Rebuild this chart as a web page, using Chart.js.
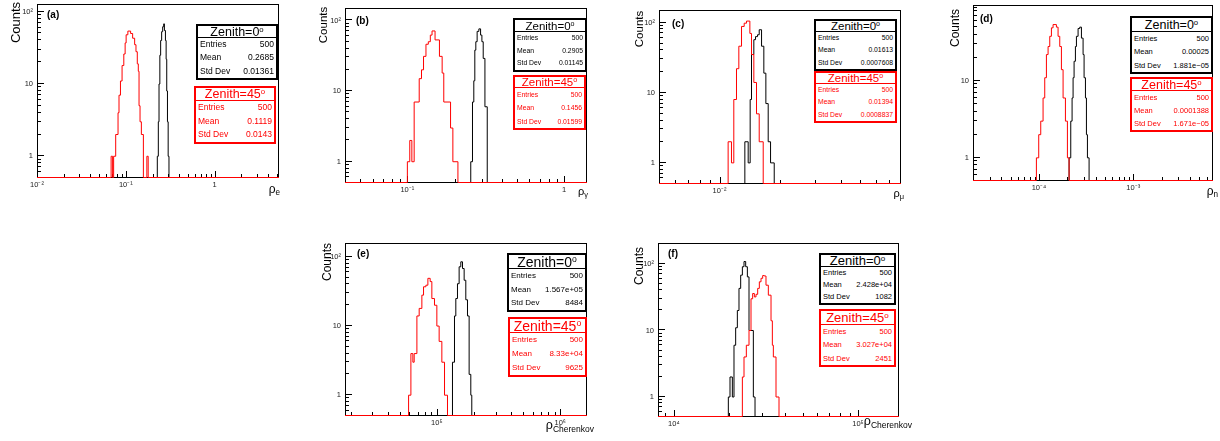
<!DOCTYPE html>
<html>
<head>
<meta charset="utf-8">
<script src="https://cdn.jsdelivr.net/npm/chart.js@4.4.0/dist/chart.umd.min.js"></script>
<style>
  html, body { margin: 0; padding: 0; background: #fff; }
  body { width: 1220px; height: 441px; position: relative; overflow: hidden;
         font-family: "Liberation Sans", Arial, Helvetica, sans-serif; color: #000; }
  canvas { position: absolute; }
  .ov { position: absolute; white-space: nowrap; line-height: 1; }
  .tag { font-weight: bold; font-size: 10px; }
  .ytitle { transform: rotate(-90deg); text-align: center; }
  .sub { font-size: 0.68em; position: relative; top: 0.32em; }
  .sup { font-size: 0.62em; position: relative; top: -0.55em; }
  .stat { position: absolute; background: #fff; border: 2px solid #000; box-sizing: border-box; white-space: nowrap; }
  .stat .ttl { position: absolute; left: 0; right: 0; top: 0; border-bottom: 1px solid; box-sizing: border-box; text-align: center; }
  .stat .row { position: absolute; left: 2px; right: 2px; display: flex; justify-content: space-between; }
</style>
</head>
<body>
<script>
// ---- histogram data: bin edges and counts ----
// (a) rho_e
const edgesA0 = [0.2261, 0.2321, 0.2364, 0.2415, 0.2466, 0.2531, 0.2599, 0.2669, 0.2718, 0.2791, 0.2843, 0.2888, 0.2942, 0.2996, 0.3060];
const countsA0 = [1, 3, 10, 25, 40, 53, 62, 68, 55, 40, 22, 8, 3, 1];
const edgesA45 = [0.0683, 0.0710, 0.0729, 0.0769, 0.0817, 0.0838, 0.0870, 0.0907, 0.0949, 0.0982, 0.1008, 0.1054, 0.1132, 0.1193, 0.1257, 0.1301, 0.1346, 0.1382, 0.1408, 0.1445, 0.1496, 0.1576, 0.1725, 0.1785];
const countsA45 = [1, 0, 1, 2, 4, 7, 11, 18, 26, 37, 48, 54, 50, 43, 35, 28, 19, 15, 5, 3, 2, 0, 1];
// (b) rho_gamma
const edgesB0 = [0.2538, 0.2603, 0.2654, 0.2694, 0.2734, 0.2787, 0.2859, 0.2932, 0.2989, 0.3047, 0.3125, 0.3233];
const countsB0 = [1, 7, 14, 38, 50, 70, 76, 62, 50, 29, 6];
const edgesB45 = [0.1000, 0.1036, 0.1068, 0.1105, 0.1190, 0.1231, 0.1268, 0.1314, 0.1360, 0.1401, 0.1437, 0.1502, 0.1602, 0.1667, 0.1707, 0.1886, 0.1951, 0.2102];
const countsB45 = [1, 2, 1, 7, 15, 20, 31, 46, 50, 62, 71, 53, 31, 18, 7, 3, 1];
// (c) rho_mu
const edgesC0 = [0.01337, 0.01389, 0.01421, 0.01443, 0.01482, 0.01511, 0.01546, 0.01576, 0.01619, 0.01662, 0.01701, 0.01747, 0.01795, 0.01872];
const countsC0 = [2, 1, 8, 35, 57, 63, 67, 79, 46, 19, 7, 2, 1];
const edgesC45 = [0.01104, 0.01147, 0.01178, 0.01215, 0.01248, 0.01287, 0.01327, 0.01363, 0.01416, 0.01443, 0.01482, 0.01528, 0.01576, 0.01650];
const countsC45 = [2, 1, 8, 22, 46, 88, 98, 105, 70, 35, 14, 5, 2];
// (d) rho_n
const edgesD0 = [2.087e-4, 2.174e-4, 2.246e-4, 2.301e-4, 2.358e-4, 2.436e-4, 2.497e-4, 2.600e-4, 2.708e-4, 2.821e-4, 2.938e-4, 3.010e-4, 3.111e-4, 3.187e-4, 3.266e-4, 3.401e-4];
const countsD0 = [1, 3, 6, 11, 18, 28, 38, 48, 50, 36, 22, 11, 6, 2, 1];
const edgesD45 = [9.40e-5, 9.95e-5, 1.045e-4, 1.106e-4, 1.152e-4, 1.200e-4, 1.250e-4, 1.302e-4, 1.356e-4, 1.412e-4, 1.532e-4, 1.595e-4, 1.662e-4, 1.731e-4, 1.803e-4, 1.909e-4, 2.004e-4, 2.087e-4];
const countsD45 = [1, 2, 3, 6, 11, 22, 28, 38, 49, 54, 50, 38, 28, 14, 6, 3, 1];
// (e) rho_Cherenkov
const edgesE0 = [1.339e5, 1.390e5, 1.425e5, 1.470e5, 1.516e5, 1.564e5, 1.614e5, 1.665e5, 1.717e5, 1.772e5, 1.827e5, 1.885e5, 1.920e5];
const countsE0 = [3, 14, 25, 41, 72, 85, 68, 46, 24, 14, 2, 1];
const edgesE45 = [5.90e4, 6.16e4, 6.39e4, 6.55e4, 6.89e4, 7.19e4, 7.56e4, 7.80e4, 8.15e4, 8.46e4, 8.83e4, 9.11e4, 9.57e4, 1.00e5, 1.044e5, 1.098e5, 1.154e5, 1.220e5];
const countsE45 = [1, 4, 3, 4, 14, 18, 28, 37, 39, 49, 44, 25, 20, 10, 6, 3, 1];
// (f) rho_Cherenkov
const edgesF0 = [1.976e4, 2.018e4, 2.078e4, 2.121e4, 2.166e4, 2.212e4, 2.258e4, 2.306e4, 2.355e4, 2.404e4, 2.455e4, 2.507e4, 2.559e4, 2.702e4, 2.759e4];
const countsF0 = [1, 2, 1, 6, 11, 20, 43, 68, 91, 109, 91, 64, 10, 1];
const edgesF45 = [2.355e4, 2.404e4, 2.475e4, 2.559e4, 2.624e4, 2.679e4, 2.736e4, 2.793e4, 2.852e4, 2.912e4, 2.974e4, 3.036e4, 3.100e4, 3.165e4, 3.259e4, 3.370e4, 3.427e4, 3.470e4, 3.587e4, 3.724e4];
const countsF45 = [2, 4, 6, 10, 30, 36, 32, 35, 43, 54, 61, 67, 66, 48, 34, 14, 6, 4, 1];

// ---- tick labels ----
const xTicksA = [0.01, 0.1, 1];     const xLabelsA = ['10\u207B\u00B2', '10\u207B\u00B9', '1'];
const xTicksB = [0.1, 1];           const xLabelsB = ['10\u207B\u00B9', '1'];
const xTicksC = [0.01];             const xLabelsC = ['10\u207B\u00B2'];
const xTicksD = [1e-4, 1e-3];       const xLabelsD = ['10\u207B\u2074', '10\u207B\u00B3'];
const xTicksE = [1e5, 1e6];         const xLabelsE = ['10\u2075', '10\u2076'];
const xTicksF = [1e4, 1e5];         const xLabelsF = ['10\u2074', '10\u2075'];
const yTicks = [1, 10, 100];        const yLabels = ['1', '10', '10\u00B2'];

// ---- stats boxes text ----
const statNames = ['Entries', 'Mean', 'Std Dev'];
const statsA = [['500', '0.2685', '0.01361'], ['500', '0.1119', '0.0143']];
const statsB = [['500', '0.2905', '0.01145'], ['500', '0.1456', '0.01599']];
const statsC = [['500', '0.01613', '0.0007608'], ['500', '0.01394', '0.0008837']];
const statsD = [['500', '0.00025', '1.881e\u221205'], ['500', '0.0001388', '1.671e\u221205']];
const statsE = [['500', '1.567e+05', '8484'], ['500', '8.33e+04', '9625']];
const statsF = [['500', '2.428e+04', '1082'], ['500', '3.027e+04', '2451']];

const Y_MIN = 0.5;
const FONT = '"Liberation Sans", Arial, Helvetica, sans-serif';

// layout of the six pads
const panels = [
  { tag: '(a)', frame: [37, 4, 242, 174], xMin: 0.01, xMax: 5.3, yMax: 128,
    xt: xTicksA, xl: xLabelsA, black: [edgesA0, countsA0], red: [edgesA45, countsA45], stats: statsA,
    tagPos: [47, 10], ct: { cx: 15.3, cy: 22.5, fs: 13 }, xTitle: { edge: 280, base: 193, fs: 12, sub: 'e' },
    boxes: [{ x: 196, y: 24, w: 82, h: 56, th: 14, tf: 12.5, rf: 8.5 }, { x: 194, y: 86, w: 82, h: 58, th: 15, tf: 12.5, rf: 8.5 }] },
  { tag: '(b)', frame: [345, 8, 242, 175], xMin: 0.04, xMax: 1.4, yMax: 150,
    xt: xTicksB, xl: xLabelsB, black: [edgesB0, countsB0], red: [edgesB45, countsB45], stats: statsB,
    tagPos: [356, 15.5], ct: { cx: 323, cy: 24.5, fs: 11.5 }, xTitle: { edge: 588, base: 195, fs: 11, sub: '\u03B3' },
    boxes: [{ x: 513, y: 18, w: 74, h: 54, th: 14, tf: 11.5, rf: 6.8 }, { x: 513, y: 75, w: 73, h: 55, th: 13, tf: 11.5, rf: 6.8 }] },
  { tag: '(c)', frame: [659, 10, 242, 174], xMin: 0.005, xMax: 0.08, yMax: 151,
    xt: xTicksC, xl: xLabelsC, black: [edgesC0, countsC0], red: [edgesC45, countsC45], stats: statsC,
    tagPos: [672, 19], ct: { cx: 638.5, cy: 29, fs: 11.5 }, xTitle: { edge: 904, base: 197, fs: 11, sub: '\u03BC' },
    boxes: [{ x: 814, y: 19, w: 83, h: 52, th: 13, tf: 11.5, rf: 6.8 }, { x: 814, y: 71, w: 83, h: 52, th: 13, tf: 11.5, rf: 6.8 }] },
  { tag: '(d)', frame: [973, 5, 240, 176], xMin: 2e-5, xMax: 7e-3, yMax: 97,
    xt: xTicksD, xl: xLabelsD, black: [edgesD0, countsD0], red: [edgesD45, countsD45], stats: statsD,
    tagPos: [980, 14], ct: { cx: 955.3, cy: 28.3, fs: 12 }, xTitle: { edge: 1218, base: 195, fs: 12, sub: 'n' },
    boxes: [{ x: 1130, y: 16, w: 83, h: 58, th: 16, tf: 12.5, rf: 7.5 }, { x: 1130, y: 77, w: 83, h: 55, th: 14, tf: 12.5, rf: 7.5 }] },
  { tag: '(e)', frame: [345, 243, 242, 173], xMin: 1.8e4, xMax: 1.65e6, yMax: 159,
    xt: xTicksE, xl: xLabelsE, black: [edgesE0, countsE0], red: [edgesE45, countsE45], stats: statsE,
    tagPos: [357, 249], ct: { cx: 326.7, cy: 261.7, fs: 12 }, xTitle: { edge: 594, base: 430, fs: 12.5, sub: 'Cherenkov' },
    boxes: [{ x: 507, y: 253, w: 80, h: 59, th: 16, tf: 14, rf: 8 }, { x: 508, y: 317, w: 79, h: 60, th: 16, tf: 14, rf: 8 }] },
  { tag: '(f)', frame: [658, 243, 241, 174], xMin: 8.2e3, xMax: 1.67e5, yMax: 207,
    xt: xTicksF, xl: xLabelsF, black: [edgesF0, countsF0], red: [edgesF45, countsF45], stats: statsF,
    tagPos: [668, 249], ct: { cx: 638.7, cy: 265.8, fs: 12 }, xTitle: { edge: 912, base: 426, fs: 12.5, sub: 'Cherenkov' },
    boxes: [{ x: 819, y: 253, w: 77, h: 52, th: 14, tf: 13, rf: 7.5 }, { x: 819, y: 309, w: 77, h: 58, th: 16, tf: 13, rf: 7.5 }] }
];

function logTicks(min, max) {
  const out = [];
  for (let e = Math.floor(Math.log10(min)); e <= Math.ceil(Math.log10(max)); e++) {
    for (let k = 1; k <= 9; k++) {
      const v = k * Math.pow(10, e);
      if (v >= min * 0.9999 && v <= max * 1.0001) out.push(v);
    }
  }
  return out;
}
function isDecade(v) {
  const e = Math.log10(v);
  return Math.abs(e - Math.round(e)) < 1e-6;
}
function labelOf(v, vals, labs) {
  const i = vals.findIndex(m => Math.abs(m - v) <= m * 1e-6);
  return i < 0 ? '' : labs[i];
}

// stepped outline like ROOT's histogram drawing; empty bins sit on the frame bottom
function histPoints(edges, counts, xmin, xmax, floor) {
  const pts = [{ x: xmin, y: floor }];
  counts.forEach((c, i) => pts.push({ x: edges[i], y: c > 0 ? c : floor }));
  pts.push({ x: edges[edges.length - 1], y: floor });
  pts.push({ x: xmax, y: floor });
  return pts;
}

// frame + inward tick marks
const rootFrame = {
  id: 'rootFrame',
  beforeDatasetsDraw(chart) {
    const { ctx, chartArea: a } = chart;
    const xs = chart.scales.x, ys = chart.scales.y;
    ctx.save();
    ctx.strokeStyle = '#000';
    ctx.lineWidth = 1;
    ctx.beginPath();
    logTicks(xs.min, xs.max).forEach(v => {
      const px = Math.round(xs.getPixelForValue(v)) + 0.5;
      if (px <= a.left + 1 || px >= a.right - 1) return;
      const len = isDecade(v) ? 7 : 4;
      ctx.moveTo(px, a.bottom);
      ctx.lineTo(px, a.bottom - len);
    });
    logTicks(ys.min, ys.max).forEach(v => {
      const py = Math.round(ys.getPixelForValue(v)) - 0.5;
      if (py <= a.top + 1 || py >= a.bottom - 1) return;
      const len = isDecade(v) ? 7 : 4;
      ctx.moveTo(a.left, py);
      ctx.lineTo(a.left + len, py);
    });
    ctx.stroke();
    ctx.strokeRect(a.left + 0.5, a.top + 0.5, a.right - a.left - 1, a.bottom - a.top - 1);
    ctx.restore();
  }
};

function zeroPad(s) {
  s.paddingLeft = s.paddingRight = s.paddingTop = s.paddingBottom = 0;
}

function addDiv(cls, html, style) {
  const d = document.createElement('div');
  d.className = cls;
  d.innerHTML = html;
  Object.assign(d.style, style);
  document.body.appendChild(d);
  return d;
}

function addStats(b, title, vals, color) {
  const inner = b.h - 4, tH = b.th - 2, rowH = (inner - tH) / 3;
  let html = `<div class="ttl" style="height:${tH}px;line-height:${tH}px;font-size:${b.tf}px;border-color:${color}">${title}</div>`;
  statNames.forEach((n, i) => {
    html += `<div class="row" style="top:${tH + i * rowH}px;height:${rowH}px;line-height:${rowH}px;font-size:${b.rf}px">` +
            `<span>${n}</span><span>${vals[i]}</span></div>`;
  });
  addDiv('stat', html, { left: b.x + 'px', top: b.y + 'px', width: b.w + 'px', height: b.h + 'px', borderColor: color, color: color });
}

panels.forEach(p => {
  const [L, T, W, H] = p.frame;
  const cv = document.createElement('canvas');
  cv.width = W + 34;
  cv.height = H + 24;
  cv.style.left = (L - 30) + 'px';
  cv.style.top = (T - 4) + 'px';
  document.body.appendChild(cv);

  const xAll = logTicks(p.xMin, p.xMax);
  const yAll = logTicks(Y_MIN, p.yMax);
  // empty bins drawn half a pixel above the axis minimum so the line sits on the frame's bottom edge
  const floor = Y_MIN * Math.pow(p.yMax / Y_MIN, 0.5 / H);

  new Chart(cv, {
    type: 'line',
    data: {
      datasets: [
        { data: histPoints(p.red[0], p.red[1], p.xMin, p.xMax, floor), borderColor: '#ff0000', borderWidth: 1,
          stepped: true, pointRadius: 0, fill: false, tension: 0 },
        { data: histPoints(p.black[0], p.black[1], p.xMin, p.xMax, floor), borderColor: '#000000', borderWidth: 1,
          stepped: true, pointRadius: 0, fill: false, tension: 0 }
      ]
    },
    options: {
      responsive: false,
      animation: false,
      devicePixelRatio: 1,
      events: [],
      layout: { padding: { left: 0, top: 4, right: 4, bottom: 0 } },
      plugins: { legend: { display: false }, tooltip: { enabled: false } },
      scales: {
        x: {
          type: 'logarithmic', min: p.xMin, max: p.xMax,
          grid: { display: false, drawTicks: false }, border: { display: false },
          afterBuildTicks: s => { s.ticks = xAll.map(v => ({ value: v })); },
          afterFit: s => { s.height = 20; zeroPad(s); },
          ticks: { autoSkip: false, maxRotation: 0, minRotation: 0, padding: 2, color: '#222',
                   font: { size: 7.5, family: FONT }, callback: v => labelOf(v, p.xt, p.xl) }
        },
        y: {
          type: 'logarithmic', min: Y_MIN, max: p.yMax,
          grid: { display: false, drawTicks: false }, border: { display: false },
          afterBuildTicks: s => { s.ticks = yAll.map(v => ({ value: v })); },
          afterFit: s => { s.width = 30; zeroPad(s); },
          ticks: { autoSkip: false, padding: 4, color: '#222',
                   font: { size: 7.5, family: FONT }, callback: v => labelOf(v, yTicks, yLabels) }
        }
      }
    },
    plugins: [rootFrame]
  });
});

// text overlays
panels.forEach(p => {
  addDiv('ov tag', p.tag, { left: p.tagPos[0] + 'px', top: p.tagPos[1] + 'px' });

  const w = 60, h = Math.round(p.ct.fs + 2);
  addDiv('ov ytitle', 'Counts', { left: (p.ct.cx - w / 2) + 'px', top: (p.ct.cy - h / 2) + 'px',
    width: w + 'px', height: h + 'px', lineHeight: h + 'px', fontSize: p.ct.fs + 'px' });

  const xt = p.xTitle;
  addDiv('ov', '\u03C1<span class="sub">' + xt.sub + '</span>', { right: (1220 - xt.edge) + 'px',
    top: (xt.base - 0.85 * xt.fs) + 'px', fontSize: xt.fs + 'px' });

  addStats(p.boxes[0], 'Zenith=0<span class="sup">o</span>', p.stats[0], '#000000');
  addStats(p.boxes[1], 'Zenith=45<span class="sup">o</span>', p.stats[1], '#ff0000');
});
</script>
</body>
</html>
